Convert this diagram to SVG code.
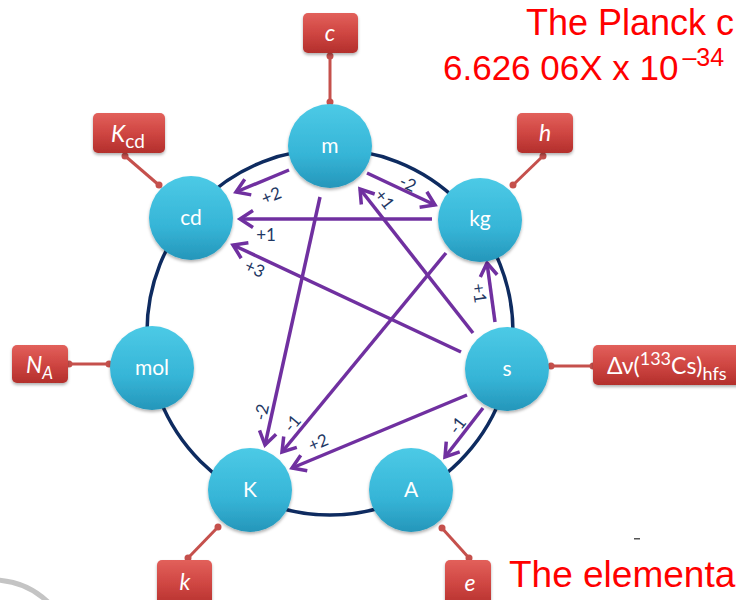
<svg xmlns="http://www.w3.org/2000/svg" width="736" height="600" viewBox="0 0 736 600">
  <style>
    .ring { fill: none; stroke: #0e2b60; stroke-width: 3.5; }
    .unit { fill: url(#unitFill); filter: url(#soft); }
    .unitText { font-family: Lato, "Open Sans", "DejaVu Sans", sans-serif; font-size: 21px; fill: #ffffff; text-anchor: middle; }
    .const { fill: url(#constFill); filter: url(#soft); }
    .constText { font-family: Lato, "Open Sans", "DejaVu Sans", sans-serif; font-size: 23px; fill: #ffffff; font-style: italic; }
    .sub { font-style: normal; }
    .tie { stroke: #c5504c; stroke-width: 3; }
    .dot { fill: #c5504c; }
    .arrow { stroke: #7030a0; stroke-width: 3.5; fill: none; marker-end: url(#chev); }
    .lbl { font-family: Lato, "Open Sans", "DejaVu Sans", sans-serif; font-size: 17px; fill: #1f3864; text-anchor: middle; dominant-baseline: central; }
    .red { font-family: "Liberation Sans", Arial, sans-serif; fill: #ff0000; }
  </style>
  <defs>
    <linearGradient id="unitFill" x1="0" y1="0" x2="0" y2="1">
      <stop offset="0" stop-color="#4ccae6"/>
      <stop offset="0.6" stop-color="#36b5d7"/>
      <stop offset="1" stop-color="#2596ba"/>
    </linearGradient>
    <linearGradient id="constFill" x1="0" y1="0" x2="0" y2="1">
      <stop offset="0" stop-color="#e2605b"/>
      <stop offset="0.5" stop-color="#cf4642"/>
      <stop offset="1" stop-color="#b32f2c"/>
    </linearGradient>
    <filter id="soft" x="-20%" y="-20%" width="140%" height="140%">
      <feDropShadow dx="0" dy="2" stdDeviation="1.5" flood-color="#000000" flood-opacity="0.3"/>
    </filter>
    <marker id="chev" markerUnits="userSpaceOnUse" markerWidth="30" markerHeight="30" refX="0" refY="0" orient="auto" overflow="visible">
      <path d="M-13,-8.5 L0,0 L-13,8.5" fill="none" stroke="#7030a0" stroke-width="3.5" stroke-linejoin="miter"/>
    </marker>
  </defs>

  <rect width="736" height="600" fill="#ffffff"/>

  <!-- decorative arc, lower left -->
  <path d="M-6,580 A82,82 0 0 1 48,602" fill="none" stroke="#c4c4c4" stroke-width="5"/>
  <rect x="634" y="538" width="6" height="1.5" fill="#555555"/>

  <!-- ring through the seven base units -->
  <circle class="ring" cx="330" cy="332" r="183"/>

  <!-- red headings -->
  <text class="red" x="526" y="35" font-size="36">The Planck c</text>
  <text class="red" x="443" y="80" font-size="35">6.626 06X x 10<tspan font-size="25" dx="4" dy="-14">–34</tspan></text>
  <text class="red" x="509" y="587" font-size="37">The elementa</text>

  <!-- connectors between units -->
  <g id="connectors">
    <line class="arrow" x1="289" y1="170" x2="236" y2="192"/>
    <line class="arrow" x1="432" y1="219" x2="240" y2="219"/>
    <line class="arrow" x1="461" y1="352" x2="233" y2="245"/>
    <line class="arrow" x1="367" y1="173" x2="435" y2="205"/>
    <line class="arrow" x1="473" y1="333" x2="360" y2="189"/>
    <line class="arrow" x1="495" y1="322" x2="487" y2="263"/>
    <line class="arrow" x1="320" y1="197" x2="265" y2="445"/>
    <line class="arrow" x1="446" y1="253" x2="282" y2="452"/>
    <line class="arrow" x1="467" y1="395" x2="292" y2="468"/>
    <line class="arrow" x1="483" y1="408" x2="445" y2="457"/>

    <text class="lbl" transform="translate(271,195) rotate(-22)">+2</text>
    <text class="lbl" x="266" y="234">+1</text>
    <text class="lbl" transform="translate(255,268) rotate(25)">+3</text>
    <text class="lbl" transform="translate(408,183) rotate(25)">-2</text>
    <text class="lbl" transform="translate(385,199) rotate(52)">+1</text>
    <text class="lbl" transform="translate(480,293) rotate(82)">+1</text>
    <text class="lbl" transform="translate(261,412) rotate(-77)">-2</text>
    <text class="lbl" transform="translate(292,423) rotate(-50)">-1</text>
    <text class="lbl" transform="translate(318,442) rotate(-23)">+2</text>
    <text class="lbl" transform="translate(457,425) rotate(-52)">-1</text>
  </g>

  <!-- constant ties -->
  <g id="ties">
    <line class="tie" x1="330" y1="55" x2="330" y2="103"/>
    <circle class="dot" cx="330" cy="56" r="3.5"/><circle class="dot" cx="330" cy="102" r="3.5"/>
    <line class="tie" x1="124" y1="155" x2="160" y2="186"/>
    <circle class="dot" cx="125" cy="156" r="3.5"/><circle class="dot" cx="159" cy="185" r="3.5"/>
    <line class="tie" x1="544" y1="155" x2="512" y2="186"/>
    <circle class="dot" cx="543" cy="156" r="3.5"/><circle class="dot" cx="513" cy="185" r="3.5"/>
    <line class="tie" x1="68" y1="364" x2="110" y2="364"/>
    <circle class="dot" cx="69" cy="364" r="3.5"/><circle class="dot" cx="109" cy="364" r="3.5"/>
    <line class="tie" x1="550" y1="366" x2="594" y2="366"/>
    <circle class="dot" cx="551" cy="366" r="3.5"/><circle class="dot" cx="593" cy="366" r="3.5"/>
    <line class="tie" x1="188" y1="558" x2="219" y2="526"/>
    <circle class="dot" cx="188" cy="558" r="3.5"/><circle class="dot" cx="218" cy="527" r="3.5"/>
    <line class="tie" x1="469" y1="558" x2="441" y2="527"/>
    <circle class="dot" cx="469" cy="558" r="3.5"/><circle class="dot" cx="442" cy="528" r="3.5"/>
  </g>

  <!-- base units -->
  <g id="node-m"><circle class="unit" cx="330" cy="146" r="42"/><text class="unitText" x="330" y="153">m</text></g>
  <g id="node-kg"><circle class="unit" cx="480" cy="220" r="42"/><text class="unitText" x="480" y="226">kg</text></g>
  <g id="node-s"><circle class="unit" cx="507" cy="369" r="42"/><text class="unitText" x="507" y="376">s</text></g>
  <g id="node-A"><circle class="unit" cx="411" cy="490" r="42"/><text class="unitText" x="411" y="497">A</text></g>
  <g id="node-K"><circle class="unit" cx="250" cy="490" r="42"/><text class="unitText" x="250" y="497">K</text></g>
  <g id="node-mol"><circle class="unit" cx="152" cy="368" r="42"/><text class="unitText" x="152" y="375">mol</text></g>
  <g id="node-cd"><circle class="unit" cx="191" cy="218" r="42"/><text class="unitText" x="191" y="225">cd</text></g>

  <!-- defining constants -->
  <g id="const-c"><rect class="const" x="303" y="13" width="55" height="40" rx="5"/><text class="constText" x="330" y="41" text-anchor="middle">c</text></g>
  <g id="const-h"><rect class="const" x="517" y="113" width="56" height="40" rx="5"/><text class="constText" x="545" y="141" text-anchor="middle">h</text></g>
  <g id="const-Kcd"><rect class="const" x="93" y="113" width="72" height="40" rx="5"/><text class="constText" x="111" y="142">K<tspan class="sub" font-size="19" dy="6">cd</tspan></text></g>
  <g id="const-NA"><rect class="const" x="12" y="345" width="56" height="38" rx="5"/><text class="constText" x="26" y="373">N<tspan font-size="17" dy="6">A</tspan></text></g>
  <g id="const-dnu"><rect class="const" x="593" y="345" width="160" height="40" rx="5"/><text class="constText sub" x="607" y="374" font-size="26">Δν(<tspan font-size="18" dy="-9">133</tspan><tspan dy="9">Cs)</tspan><tspan font-size="18" dy="6">hfs</tspan></text></g>
  <g id="const-k"><rect class="const" x="157" y="560" width="55" height="48" rx="5"/><text class="constText" x="185" y="590" text-anchor="middle">k</text></g>
  <g id="const-e"><rect class="const" x="445" y="560" width="46" height="48" rx="5"/><text class="constText" x="470" y="591" text-anchor="middle">e</text></g>
</svg>
